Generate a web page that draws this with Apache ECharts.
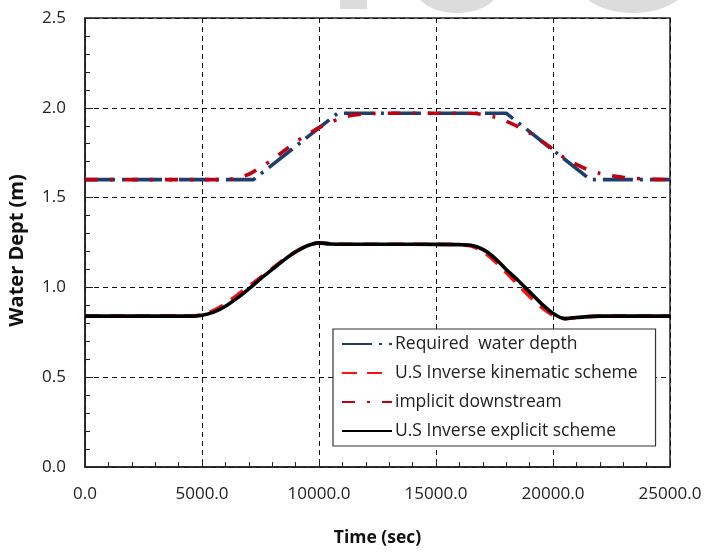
<!DOCTYPE html>
<html><head><meta charset="utf-8">
<script src="https://cdn.jsdelivr.net/npm/echarts@6/dist/echarts.min.js"></script>
<style>html,body{margin:0;padding:0;background:#fff}#c{width:705px;height:552px}</style>
</head><body><div id="c"></div>
<script>
const xTicks = [0, 5000, 10000, 15000, 20000, 25000];
const yTicks = [0.0, 0.5, 1.0, 1.5, 2.0, 2.5];

const reqT = [0, 7200, 10800, 18000, 21600, 25000];
const reqV = [1.6, 1.6, 1.97, 1.97, 1.6, 1.6];

const kinT = [0, 4500, 5000, 5500, 6000, 6500, 7000, 7500, 8000, 8500, 9000, 9500, 10000, 10500, 12000, 14000, 16000, 16500, 17000, 17500, 18000, 18500, 19000, 19500, 20000, 20500, 21000, 22000, 25000];
const kinV = [0.84, 0.84, 0.848, 0.872, 0.91, 0.957, 1.006, 1.056, 1.105, 1.155, 1.198, 1.232, 1.248, 1.242, 1.24, 1.24, 1.238, 1.23, 1.2, 1.148, 1.083, 1.015, 0.95, 0.89, 0.845, 0.826, 0.832, 0.84, 0.84];

const impT = [0, 6000, 6500, 7000, 7500, 8000, 8500, 9000, 9500, 10000, 10500, 11000, 11500, 12000, 13000, 16500, 17000, 17500, 18000, 18500, 19000, 19500, 20000, 20500, 21000, 21500, 22000, 22500, 23000, 23500, 24000, 25000];
const impV = [1.6, 1.6, 1.61, 1.63, 1.67, 1.71, 1.76, 1.81, 1.85, 1.89, 1.92, 1.945, 1.96, 1.967, 1.97, 1.97, 1.962, 1.948, 1.925, 1.895, 1.86, 1.815, 1.77, 1.72, 1.685, 1.655, 1.635, 1.622, 1.613, 1.607, 1.603, 1.6];

const expT = [0, 4500, 5000, 5500, 6000, 6500, 7000, 7500, 8000, 8500, 9000, 9500, 10000, 10500, 12000, 14000, 16000, 16500, 17000, 17500, 18000, 18500, 19000, 19500, 20000, 20500, 21000, 22000, 25000];
const expV = [0.84, 0.84, 0.845, 0.862, 0.895, 0.94, 0.992, 1.048, 1.10, 1.152, 1.198, 1.232, 1.248, 1.242, 1.24, 1.24, 1.238, 1.235, 1.212, 1.165, 1.10, 1.04, 0.975, 0.91, 0.855, 0.826, 0.832, 0.84, 0.84];

const names = ['Required  water depth', 'U.S Inverse kinematic scheme', 'implicit downstream', 'U.S Inverse explicit scheme'];

const pairs = (t, v) => t.map((x, i) => [x, v[i]]);
const FONT = 'Open Sans';

const chart = echarts.init(document.getElementById('c'), null, {renderer: 'canvas'});
chart.setOption({
  animation: false,
  backgroundColor: '#fff',
  graphic: [
    {type: 'rect', shape: {x: 340, y: 0, width: 27, height: 9}, style: {fill: '#dcdcdc'}, z: -10},
    {type: 'ellipse', shape: {cx: 457, cy: -12, rx: 42, ry: 25}, style: {fill: '#dcdcdc'}, z: -10},
    {type: 'ellipse', shape: {cx: 633, cy: -18, rx: 55, ry: 31}, style: {fill: '#dcdcdc'}, z: -10}
  ],
  grid: {left: 85, top: 18, right: 35, bottom: 85, outerBoundsMode: 'none', containLabel: false,
         show: true, borderColor: '#222', borderWidth: 1.5, backgroundColor: 'transparent'},
  xAxis: {
    type: 'value', min: 0, max: 25000, interval: 5000,
    name: 'Time (sec)', nameLocation: 'middle', nameGap: 62,
    nameTextStyle: {fontFamily: FONT, fontWeight: 'bold', fontSize: 17.5, color: '#111'},
    axisLine: {show: true, lineStyle: {color: '#222', width: 1.5}},
    axisTick: {show: true, inside: true, length: 8, lineStyle: {color: '#222'}},
    minorTick: {show: true, splitNumber: 5, length: 5, lineStyle: {color: '#222'}},
    axisLabel: {margin: 19, fontFamily: FONT, fontSize: 17, color: '#222', formatter: v => v.toFixed(1)},
    splitLine: {show: true, lineStyle: {color: '#111', type: [5, 4], width: 1}}
  },
  yAxis: {
    type: 'value', min: 0, max: 2.5, interval: 0.5,
    name: 'Water Dept (m)', nameLocation: 'middle', nameGap: 58,
    nameTextStyle: {fontFamily: FONT, fontWeight: 'bold', fontSize: 20, color: '#111', padding: [0, 16, 0, 0]},
    axisLine: {show: true, lineStyle: {color: '#222', width: 1.5}},
    axisTick: {show: true, inside: true, length: 8, lineStyle: {color: '#222'}},
    minorTick: {show: true, splitNumber: 5, length: 5, lineStyle: {color: '#222'}},
    axisLabel: {margin: 19, fontFamily: FONT, fontSize: 17, color: '#222', formatter: v => v.toFixed(1)},
    splitLine: {show: true, lineStyle: {color: '#111', type: [5, 4], width: 1}}
  },
  legend: {
    orient: 'vertical', left: 333, top: 329,
    itemWidth: 50, itemHeight: 14, itemGap: 11,
    backgroundColor: '#fff', borderColor: '#333', borderWidth: 1.2,
    padding: [6, 18, 6, 8],
    itemStyle: {opacity: 0},
    textStyle: {fontFamily: FONT, fontSize: 17.5, color: '#222', padding: [0, 0, 0, -2]},
    data: names
  },
  series: [
    {name: names[0], type: 'line', symbol: 'none', data: pairs(reqT, reqV), z: 2,
     lineStyle: {color: '#1f3e6b', width: 3.6, type: [30, 7, 3, 7]}, itemStyle: {color: '#1f3e6b'}},
    {name: names[1], type: 'line', symbol: 'none', smooth: 0.3, data: pairs(kinT, kinV), z: 3,
     lineStyle: {color: '#ff1010', width: 3.6, type: [15, 10]}, itemStyle: {color: '#ff1010'}},
    {name: names[2], type: 'line', symbol: 'none', smooth: 0.3, data: pairs(impT, impV), z: 3,
     lineStyle: {color: '#c00010', width: 3.6, type: [13, 12, 3, 12]}, itemStyle: {color: '#c00010'}},
    {name: names[3], type: 'line', symbol: 'none', smooth: 0.3, data: pairs(expT, expV), z: 4,
     lineStyle: {color: '#000', width: 3.6}, itemStyle: {color: '#000'}}
  ]
});
</script></body></html>
